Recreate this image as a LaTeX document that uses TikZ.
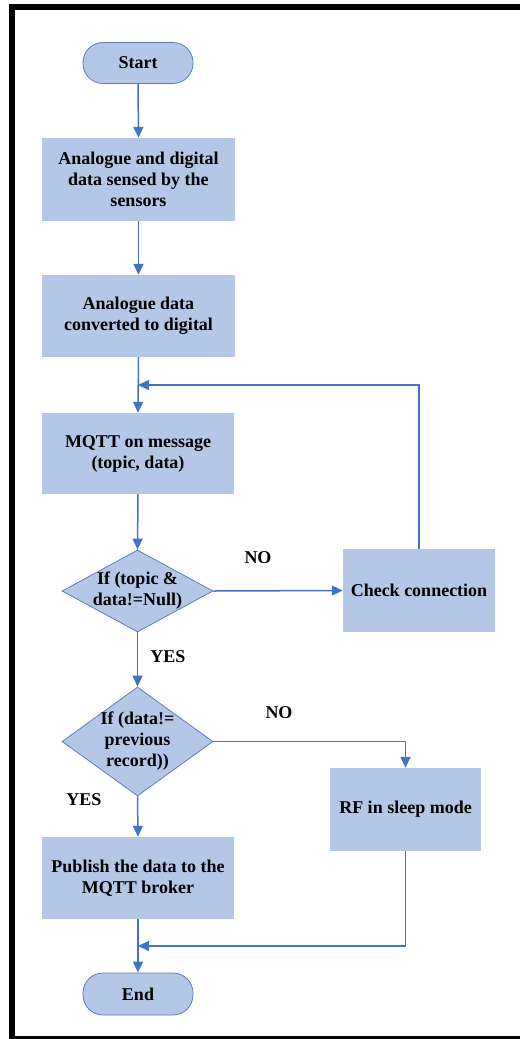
\documentclass[tikz,border=0pt]{standalone}
\usepackage{fontspec}
\setmainfont{Liberation Serif}
\usetikzlibrary{arrows.meta,shapes.geometric}
\definecolor{boxfill}{HTML}{B4C7E7}
\definecolor{boxline}{HTML}{5B7DBC}
\definecolor{arrowc}{HTML}{4472C4}
\begin{document}
\begin{tikzpicture}[x=1pt,y=-1pt,
  every node/.style={font=\fontsize{18}{21}\selectfont\bfseries, text=black},
  procbox/.style={rectangle, fill=boxfill, draw=none, align=center, inner sep=0pt},
  termbox/.style={rectangle, rounded corners=20pt, fill=boxfill, draw=boxline, line width=0.8pt,
     minimum width=110pt, minimum height=41pt, inner sep=0pt},
  decbox/.style={diamond, fill=boxfill, draw=boxline, line width=0.8pt, inner sep=0pt},
  lbl/.style={inner sep=0pt},
  flow/.style={draw=arrowc, line width=1.5pt, -{Triangle[width=10pt,length=11pt]}},
  plain/.style={draw=arrowc, line width=1.5pt}
]
\useasboundingbox (0,0) rectangle (520,1039);
% frame
\fill[black] (9,4) rectangle (520,10);
\fill[black] (9,4) rectangle (15,1039);
\fill[black] (9,1035.5) rectangle (520,1039);

% nodes
\node[termbox] (start) at (138,63) {Start};
\node[procbox, minimum width=193pt, minimum height=83pt] (b1) at (138.5,179.5)
  {Analogue and digital\\data sensed by the\\sensors};
\node[procbox, minimum width=193pt, minimum height=82pt] (b2) at (138.5,316)
  {Analogue data\\converted to digital};
\node[procbox, minimum width=192pt, minimum height=81pt] (mq) at (138,453.5)
  {MQTT on message\\(topic, data)};
\node[decbox, minimum width=151pt, minimum height=82pt,
  label={[align=center]center:{If (topic \&\\data!=Null)}}] (d1) at (137.5,591) {};
\node[procbox, minimum width=152pt, minimum height=83pt] (chk) at (419,590.5)
  {Check connection};
\node[decbox, minimum width=151pt, minimum height=109pt,
  label={[align=center]center:{If (data!=\\previous\\record))}}] (d2) at (137.5,741.5) {};
\node[procbox, minimum width=151pt, minimum height=83pt] (rf) at (405.5,809.5)
  {RF in sleep mode};
\node[procbox, minimum width=192pt, minimum height=82pt] (pub) at (138,878)
  {Publish the data to the\\MQTT broker};
\node[termbox, minimum height=42pt] (end) at (138,994) {End};

% labels
\node[lbl] (no1) at (258,558) {NO};
\node[lbl] (yes1) at (168,657) {YES};
\node[lbl] (no2) at (279,713) {NO};
\node[lbl] (yes2) at (84,800) {YES};

% joints
\coordinate (j1) at (138,385);
\coordinate (j2) at (138,946);
\coordinate (k2) at (405.5,741.5);

% connectors
\draw[flow] (start.south) -- (b1.north);
\draw[flow] (b1.south) -- (b2.north);
\draw[flow] (b2.south) -- (mq.north);
\draw[flow] (chk.north) |- (j1);
\draw[flow] (mq.south) -- (d1.north);
\draw[flow] (d1.east) -- (chk.west);
\draw[flow] (d1.south) -- (d2.north);
\draw[plain] (d2.east) -- (k2);
\draw[flow] (k2) -- (rf.north);
\draw[flow] (d2.south) -- (pub.north);
\draw[flow] (pub.south) -- (end.north);
\draw[flow] (rf.south) |- (j2);
\end{tikzpicture}
\end{document}
